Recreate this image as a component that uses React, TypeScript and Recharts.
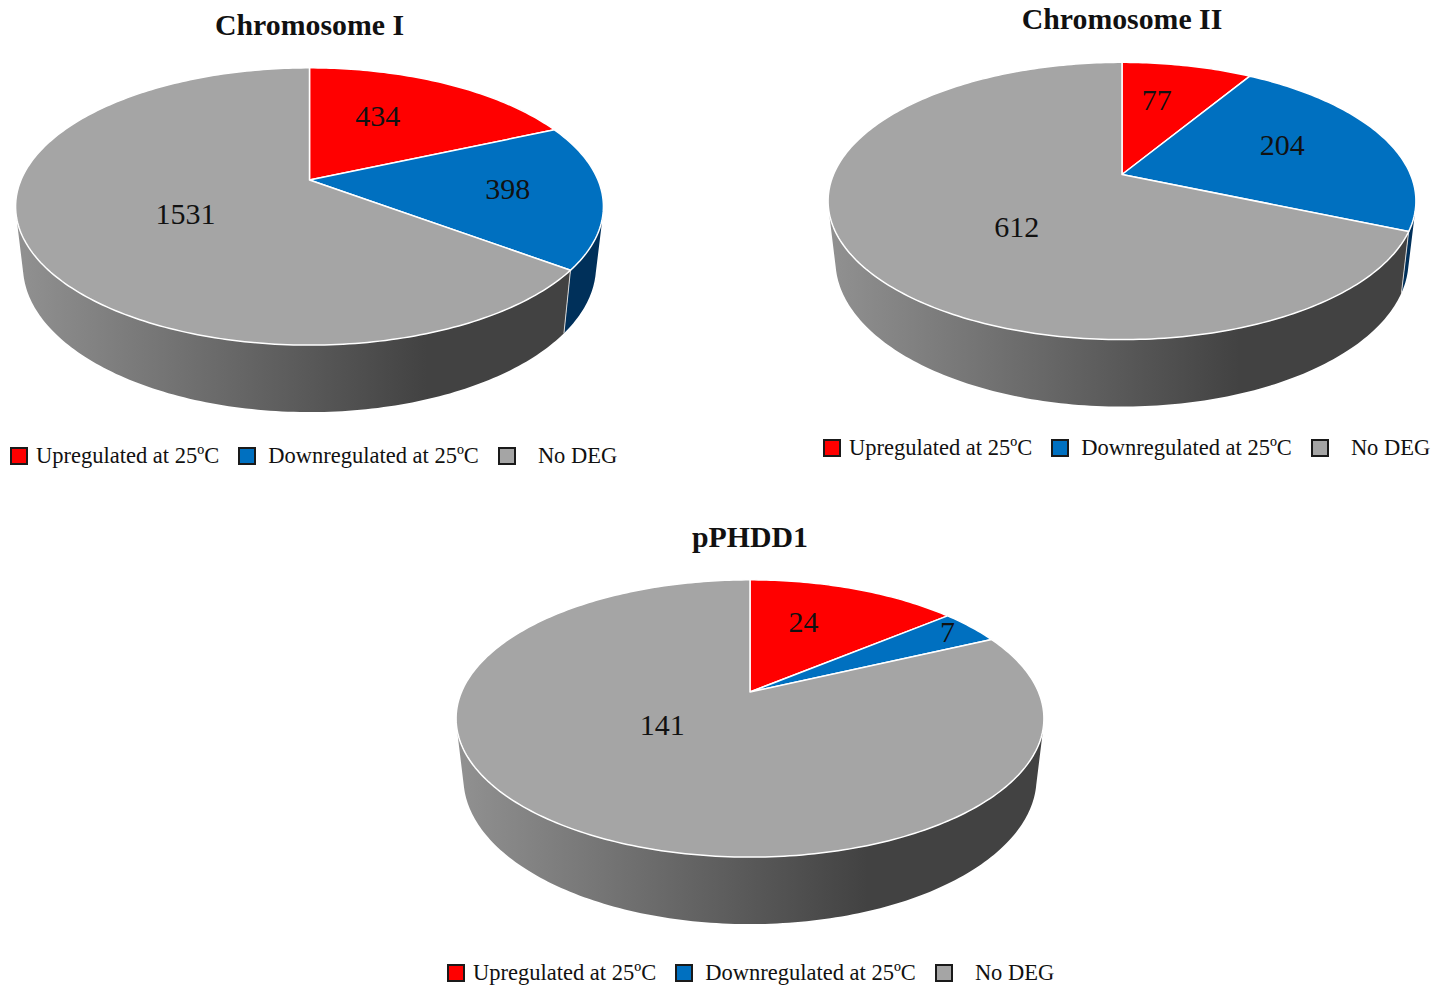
import React from 'react';
import { PieChart, Pie, Legend } from 'recharts';

const categories = ['Upregulated at 25ºC', 'Downregulated at 25ºC', 'No DEG'];
const chromosome1Counts = [434, 398, 1531];
const chromosome2Counts = [77, 204, 612];
const plasmidCounts = [24, 7, 141];

const topColors = ['#ff0000', '#0070c0', '#a5a5a5'];
const wallColors = ['#7f0000', '#00305a', ''];

const RADIUS = 288.5;
const TILT = 0.463; // vertical foreshortening of the disc
const PERSPECTIVE = 0.191; // far edge of the disc shrinks by this factor
const CENTER_DROP = 26; // ellipse centre sits below the pie apex
const FONT = '"Liberation Serif", "Times New Roman", serif';

const rad = (deg: number) => (deg * Math.PI) / 180;

// Projects a point on the unit disc (polar, degrees) onto the tilted top face.
const projectTop = (cx: number, cy: number, R: number, angle: number, r = 1) => {
  const u = r * Math.cos(rad(angle));
  const v = r * Math.sin(rad(angle));
  const den = 1 + PERSPECTIVE * v;
  return { x: cx + (R * u) / den, y: cy - (R * TILT * v) / den };
};

// Same rim point on the lower edge of the wall.
const projectBottom = (cx: number, cy: number, R: number, angle: number) => {
  const p = projectTop(cx, cy, R, angle);
  const centerY = cy + CENTER_DROP;
  return { x: cx + (p.x - cx) * 0.975, y: centerY + (p.y - centerY) * 1.053 + 59.6 };
};

const TopSlice = (props: any) => {
  const { cx, cy, outerRadius, startAngle, endAngle, fill } = props;
  const steps = Math.max(2, Math.ceil(Math.abs(endAngle - startAngle)));
  let d = `M${cx},${cy}`;
  for (let i = 0; i <= steps; i++) {
    const p = projectTop(cx, cy, outerRadius, startAngle + ((endAngle - startAngle) * i) / steps);
    d += `L${p.x.toFixed(2)},${p.y.toFixed(2)}`;
  }
  return <path d={`${d}Z`} fill={fill} stroke="#fff" strokeWidth={1.5} strokeLinejoin="round" />;
};

// Wall of one slice: only the quads facing the viewer are kept.
const WallSlice = (props: any) => {
  const { cx, cy, outerRadius, startAngle, endAngle, fill } = props;
  const steps = Math.max(2, Math.ceil(Math.abs(endAngle - startAngle)));
  const at = (i: number) => startAngle + ((endAngle - startAngle) * i) / steps;
  let d = '';
  let firstFacing = false;
  for (let i = 0; i < steps; i++) {
    const a = projectTop(cx, cy, outerRadius, at(i));
    const b = projectTop(cx, cy, outerRadius, at(i + 1));
    const a2 = projectBottom(cx, cy, outerRadius, at(i));
    const b2 = projectBottom(cx, cy, outerRadius, at(i + 1));
    const facing = (b.x - a.x) * (a2.y - a.y) - (b.y - a.y) * (a2.x - a.x) < 0;
    if (i === 0) firstFacing = facing;
    if (facing) d += `M${a.x},${a.y}L${b.x},${b.y}L${b2.x},${b2.y}L${a2.x},${a2.y}Z`;
  }
  const s = projectTop(cx, cy, outerRadius, startAngle);
  const s2 = projectBottom(cx, cy, outerRadius, startAngle);
  return (
    <g>
      {d && <path d={d} fill={fill} />}
      {firstFacing && <line x1={s.x} y1={s.y} x2={s2.x} y2={s2.y} stroke="#d8d8d8" strokeWidth={1} />}
    </g>
  );
};

const textGaps = [8, 12, 22];
const itemGaps = [19, 19, 0];

const LegendRow = ({ payload }: any) => {
  // the wall series shares the chart's legend payload, so it gets dropped here
  const items = (payload || []).filter((entry: any) => entry.type !== 'none');
  return (
    <div style={{ display: 'flex', alignItems: 'center', fontFamily: FONT, fontSize: 22.5, color: '#111', whiteSpace: 'nowrap' }}>
      {items.map((entry: any, i: number) => (
        <React.Fragment key={entry.value}>
          <span
            style={{
              width: 14,
              height: 14,
              background: entry.color,
              border: '2px solid #1a1a1a',
              marginRight: textGaps[i],
              flex: 'none',
            }}
          />
          <span style={{ marginRight: itemGaps[i] }}>{entry.value}</span>
        </React.Fragment>
      ))}
    </div>
  );
};

interface PanelProps {
  id: string;
  title: string;
  counts: number[];
  cx: number;
  cy: number;
  titleY: number;
  legendX: number;
  legendY: number;
  labelShift: number[][];
}

const PiePanel = ({ id, title, counts, cx, cy, titleY, legendX, legendY, labelShift }: PanelProps) => {
  const slices = categories.map((name, i) => ({ name, value: counts[i], fill: topColors[i] }));
  const walls = categories.map((name, i) => ({
    name,
    value: counts[i],
    fill: wallColors[i] || `url(#wall-${id})`,
  }));

  const renderCount = (p: any) => {
    const pos = projectTop(p.cx, p.cy, p.outerRadius, p.midAngle, 0.6);
    const [dx, dy] = labelShift[p.index];
    return (
      <text
        x={pos.x + dx}
        y={pos.y + dy}
        textAnchor="middle"
        dominantBaseline="central"
        fontFamily={FONT}
        fontSize={30}
        fill="#111"
      >
        {p.value}
      </text>
    );
  };

  return (
    <div style={{ position: 'absolute', left: 0, top: 0 }}>
      <PieChart width={1449} height={985} margin={{ top: 0, right: 0, bottom: 0, left: 0 }}>
        <defs>
          <linearGradient id={`wall-${id}`} gradientUnits="userSpaceOnUse" x1={cx - 293} x2={cx + 293} y1={0} y2={0}>
            <stop offset="0" stopColor="#919191" />
            <stop offset="0.7" stopColor="#424242" />
            <stop offset="1" stopColor="#424242" />
          </linearGradient>
        </defs>
        <text x={cx} y={titleY} textAnchor="middle" fontFamily={FONT} fontSize={29.8} fontWeight="bold" fill="#111">
          {title}
        </text>
        <Pie
          data={walls}
          dataKey="value"
          nameKey="name"
          cx={cx}
          cy={cy}
          outerRadius={RADIUS}
          startAngle={90}
          endAngle={-270}
          legendType="none"
          shape={WallSlice}
          isAnimationActive={false}
        />
        <Pie
          data={slices}
          dataKey="value"
          nameKey="name"
          cx={cx}
          cy={cy}
          outerRadius={RADIUS}
          startAngle={90}
          endAngle={-270}
          shape={TopSlice}
          label={renderCount}
          labelLine={false}
          isAnimationActive={false}
        />
        <Legend content={<LegendRow />} itemSorter={null} wrapperStyle={{ left: legendX, top: legendY, width: 'auto' }} />
      </PieChart>
    </div>
  );
};

export default function App() {
  return (
    <div style={{ position: 'absolute', left: 0, top: 0, width: 1449, height: 985, background: '#fff', overflow: 'hidden' }}>
      <PiePanel
        id="chr1"
        title="Chromosome I"
        counts={chromosome1Counts}
        cx={309.5}
        cy={180}
        titleY={35}
        legendX={10}
        legendY={443}
        labelShift={[[-18, -3], [24, -1], [39, -4]]}
      />
      <PiePanel
        id="chr2"
        title="Chromosome II"
        counts={chromosome2Counts}
        cx={1122}
        cy={174.5}
        titleY={29}
        legendX={823}
        legendY={435}
        labelShift={[[-7, -5], [1, -6], [49, 5]]}
      />
      <PiePanel
        id="pphdd1"
        title="pPHDD1"
        counts={plasmidCounts}
        cx={750}
        cy={692}
        titleY={547}
        legendX={447}
        legendY={960}
        labelShift={[[-13, -5], [60, -20], [15, -42]]}
      />
    </div>
  );
}
